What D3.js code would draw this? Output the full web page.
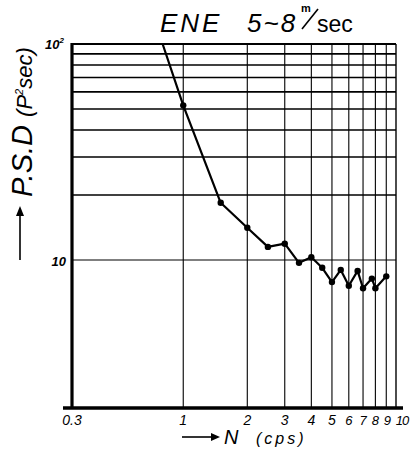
<!DOCTYPE html>
<meta charset="utf-8">
<html>
<head>
    <script src="https://d3js.org/d3.v7.min.js"></script>
    <style>
        body { margin: 0; background: #fff; }
        text { font-family: "Liberation Sans", sans-serif; font-style: italic; fill: #000; }
    </style>
</head>
<body>
    <div id="chart"></div>
    <script>
        // spectrum (frequency in cps, P.S.D)
        const freq = [0.8, 1, 1.5, 2, 2.5, 3, 3.5, 4, 4.5, 5, 5.5, 6, 6.6, 7, 7.7, 8, 9];
        const psd = [100, 52, 18.4, 14.1, 11.5, 11.9, 9.7, 10.3, 9.2, 7.9, 9.0, 7.6, 8.9, 7.4, 8.2, 7.4, 8.4];
        const dotted = [false, true, true, true, true, true, true, true, true, true, true, true, true, true, true, true, true];

        // grid / tick values
        const xGrid = [1, 2, 3, 4, 5, 6, 7, 8, 9];
        const xTicks = [0.3, 1, 2, 3, 4, 5, 6, 7, 8, 9, 10];
        const xTickText = ["0.3", "1", "2", "3", "4", "5", "6", "7", "8", "9", "10"];
        const yGrid = [10, 20, 30, 40, 50, 60, 70, 80, 90];

        const W = 410, H = 452;
        const svg = d3.select("#chart").append("svg")
            .attr("width", W).attr("height", H);

        // log scales, one decade ~213 px across and ~216 px up
        const x = d3.scaleLog().domain([0.3, 10]).range([72, 396]);
        const y = d3.scaleLog().domain([10, 100]).range([260, 44]);
        const yBottom = 408;

        // horizontal grid lines
        svg.append("g").selectAll("line").data(yGrid).enter().append("line")
            .attr("x1", x(0.3)).attr("x2", x(10))
            .attr("y1", d => y(d)).attr("y2", d => y(d))
            .attr("stroke", "#000")
            .attr("stroke-width", d => d == 10 ? 1.2 : 1.6);

        // vertical grid lines (only above 1 cps)
        svg.append("g").selectAll("line").data(xGrid).enter().append("line")
            .attr("x1", d => x(d)).attr("x2", d => x(d))
            .attr("y1", y(100)).attr("y2", yBottom)
            .attr("stroke", "#000")
            .attr("stroke-width", 1.1);

        // frame: top + right
        svg.append("line").attr("x1", x(0.3)).attr("x2", x(10))
            .attr("y1", y(100)).attr("y2", y(100))
            .attr("stroke", "#000").attr("stroke-width", 2);
        svg.append("line").attr("x1", x(10)).attr("x2", x(10))
            .attr("y1", y(100)).attr("y2", yBottom)
            .attr("stroke", "#000").attr("stroke-width", 1.4);

        // thick axes
        svg.append("line").attr("x1", x(0.3)).attr("x2", x(0.3))
            .attr("y1", y(100) - 1).attr("y2", yBottom)
            .attr("stroke", "#000").attr("stroke-width", 3.2);
        svg.append("line").attr("x1", x(0.3) - 9).attr("x2", x(10) + 7)
            .attr("y1", yBottom).attr("y2", yBottom)
            .attr("stroke", "#000").attr("stroke-width", 3.5);

        // the spectrum
        const pts = freq.map((f, i) => ({ f: f, p: psd[i], dot: dotted[i] }));
        const line = d3.line().x(d => x(d.f)).y(d => y(d.p));
        svg.append("path").datum(pts)
            .attr("d", line)
            .attr("fill", "none")
            .attr("stroke", "#000")
            .attr("stroke-width", 2.2)
            .attr("stroke-linejoin", "round");
        svg.append("g").selectAll("circle").data(pts.filter(d => d.dot)).enter().append("circle")
            .attr("cx", d => x(d.f)).attr("cy", d => y(d.p))
            .attr("r", 3.2).attr("fill", "#000");

        // x tick labels, the last ones squeezed like the hand lettering
        svg.append("g").selectAll("text").data(xTicks).enter().append("text")
            .attr("x", d => x(d) + (d == 10 ? 6 : d == 9 ? 1 : 0)).attr("y", 425)
            .attr("text-anchor", "middle")
            .style("font-size", d => d >= 6 ? "13px" : "14px")
            .style("letter-spacing", d => d == 10 ? "-1px" : null)
            .text((d, i) => xTickText[i]);

        // y tick labels
        svg.append("text").attr("x", 64).attr("y", y(100) + 5)
            .attr("text-anchor", "end").style("font-size", "13px").style("font-weight", "bold")
            .text("10").append("tspan").attr("dy", -6).style("font-size", "8px").text("2");
        svg.append("text").attr("x", 66).attr("y", y(10) + 6)
            .attr("text-anchor", "end").style("font-size", "13px").style("font-weight", "bold")
            .text("10");

        // x axis title with arrow
        svg.append("line").attr("x1", 182).attr("x2", 214).attr("y1", 437).attr("y2", 437)
            .attr("stroke", "#000").attr("stroke-width", 1.6);
        svg.append("path").attr("d", "M220,437 L211,433 L211,441 Z").attr("fill", "#000");
        svg.append("text").attr("x", 224).attr("y", 444)
            .style("font-size", "20px").text("N");
        svg.append("text").attr("x", 256).attr("y", 444)
            .style("font-size", "16px").style("letter-spacing", "3px").text("(cps)");

        // y axis title with arrow
        const yl = svg.append("text")
            .attr("transform", "translate(32,197) rotate(-90)")
            .style("font-size", "29px")
            .text("P.S.D ");
        yl.append("tspan").style("font-size", "22px").text("(P");
        yl.append("tspan").attr("dy", -9).style("font-size", "11px").text("2");
        yl.append("tspan").attr("dy", 9).style("font-size", "22px").text("sec)");
        svg.append("line").attr("x1", 20).attr("x2", 20).attr("y1", 260).attr("y2", 214)
            .attr("stroke", "#000").attr("stroke-width", 1.6);
        svg.append("path").attr("d", "M20,206 L16,216 L24,216 Z").attr("fill", "#000");

        // title: "ENE  5~8 m/sec", the unit written as a little fraction
        const title = svg.append("g");
        title.append("text").attr("x", 160).attr("y", 32).style("font-size", "26px")
            .style("letter-spacing", "3px").text("ENE");
        title.append("text").attr("x", 247).attr("y", 32).style("font-size", "26px")
            .style("letter-spacing", "2px").text("5~8");
        title.append("text").attr("x", 301).attr("y", 12).style("font-size", "11px")
            .style("font-weight", "bold").style("font-style", "normal").text("m");
        title.append("line").attr("x1", 302).attr("y1", 29).attr("x2", 318).attr("y2", 9)
            .attr("stroke", "#000").attr("stroke-width", 1.6);
        title.append("text").attr("x", 317).attr("y", 32).style("font-size", "23px")
            .style("font-style", "normal").text("sec");
    </script>
</body>
</html>
